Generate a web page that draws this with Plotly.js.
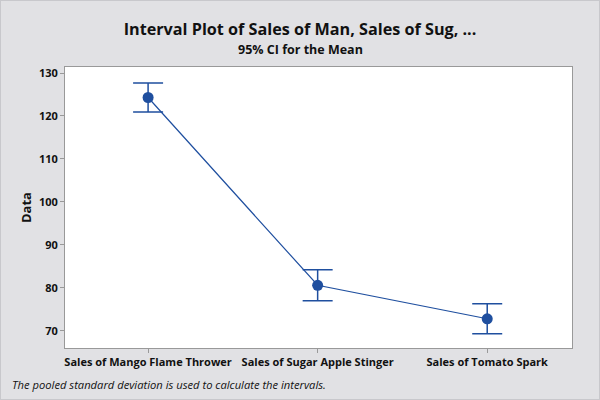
<!DOCTYPE html>
<html><head><meta charset="utf-8">
<script src="https://cdn.plot.ly/plotly-3.0.1.min.js"></script>
<style>html,body{margin:0;padding:0;background:#e1e1e4;}#chart{width:600px;height:400px;box-sizing:border-box;border:1px solid #c8c8cc;}</style>
</head><body><div id="chart"></div>
<script>
const categories = ["Sales of Mango Flame Thrower", "Sales of Sugar Apple Stinger", "Sales of Tomato Spark"];
const means = [124.3, 80.6, 72.8];
const ciUpper = [127.7, 84.2, 76.3];
const ciLower = [120.9, 77.0, 69.3];
const yTicks = [70, 80, 90, 100, 110, 120, 130];

const blue = "#1f4f9f";
const trace = {
  x: categories, y: means, type: "scatter", mode: "lines+markers",
  line: {color: blue, width: 1.2},
  marker: {color: blue, size: 11},
  error_y: {type: "data", symmetric: false,
    array: means.map((m, i) => ciUpper[i] - m),
    arrayminus: means.map((m, i) => m - ciLower[i]),
    color: blue, thickness: 1.5, width: 15}
};
const font = "Open Sans, Liberation Sans, sans-serif";
const layout = {
  width: 598, height: 398,
  paper_bgcolor: "#e1e1e4", plot_bgcolor: "#ffffff",
  margin: {l: 64, r: 27, t: 66, b: 51},
  showlegend: false,
  font: {family: font, color: "#111", size: 11},
  title: {text: "<b>Interval Plot of Sales of Man, Sales of Sug, ...</b>",
    x: 0.5, xanchor: "center", y: 0.93, yanchor: "middle", font: {size: 16.2, family: font, color: "#111"}},
  xaxis: {type: "category", range: [-0.49, 2.5], showgrid: false, zeroline: false,
    showline: true, linecolor: "#999", linewidth: 1, mirror: true,
    ticks: "outside", ticklen: 4, tickcolor: "#999",
    tickfont: {size: 11, family: font, color: "#111"},
    tickvals: categories, ticktext: categories.map(c => "<b>" + c + "</b>")},
  yaxis: {range: [66.0, 131.4], showgrid: false, zeroline: false,
    showline: true, linecolor: "#999", linewidth: 1, mirror: true,
    ticks: "outside", ticklen: 4, tickcolor: "#999",
    tickvals: yTicks, ticktext: yTicks.map(v => "<b>" + v + "</b>"),
    tickfont: {size: 11, family: font, color: "#111"},
    title: {text: "<b>Data</b>", font: {size: 13, family: font, color: "#111"}, standoff: 4}},
  annotations: [
    {text: "<b>95% CI for the Mean</b>", xref: "paper", yref: "paper", x: 0.465, y: 1.063,
      xanchor: "center", yanchor: "middle", showarrow: false, font: {size: 12.5, family: font, color: "#111"}},
    {text: "<i>The pooled standard deviation is used to calculate the intervals.</i>",
    xref: "paper", yref: "paper", x: -0.108, y: -0.13, xanchor: "left", yanchor: "middle",
    showarrow: false, font: {size: 11.2, family: font, color: "#111"}}]
};
Plotly.newPlot("chart", [trace], layout, {displayModeBar: false, staticPlot: true});
</script></body></html>
